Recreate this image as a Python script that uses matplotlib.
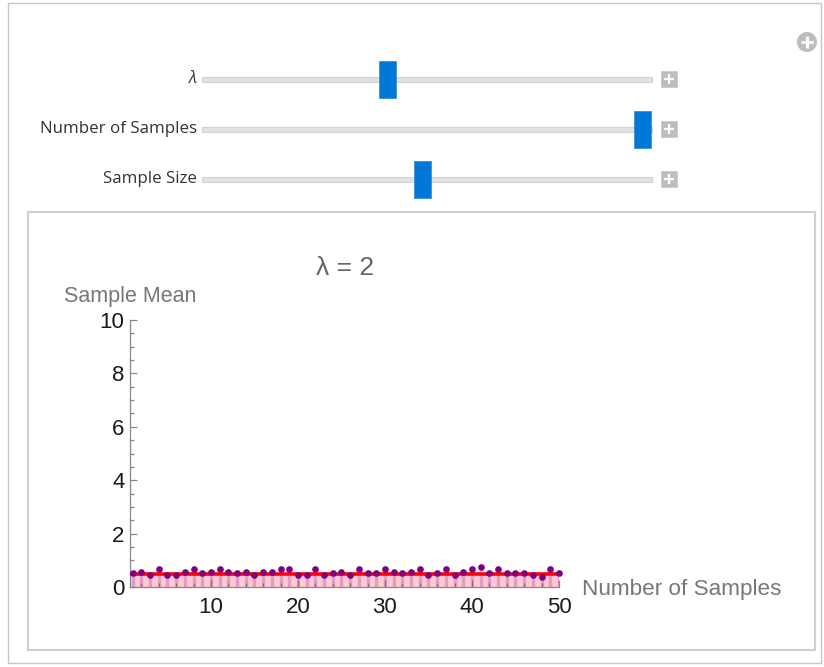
import matplotlib
matplotlib.use('Agg')
import matplotlib.pyplot as plt
from matplotlib.patches import Rectangle, Circle
import numpy as np

plt.rcParams['font.family'] = ['Liberation Sans', 'DejaVu Sans']

# data
lam = 2
sample_ids = np.arange(1, 51)
sample_means = [0.54, 0.57, 0.45, 0.66, 0.45, 0.45, 0.57, 0.66, 0.54, 0.57,
                0.66, 0.57, 0.54, 0.57, 0.45, 0.57, 0.57, 0.66, 0.66, 0.45,
                0.45, 0.66, 0.45, 0.54, 0.57, 0.45, 0.66, 0.54, 0.54, 0.66,
                0.57, 0.54, 0.57, 0.66, 0.45, 0.54, 0.66, 0.45, 0.57, 0.66,
                0.74, 0.54, 0.66, 0.54, 0.54, 0.54, 0.45, 0.36, 0.66, 0.54]
true_mean = 1 / lam

slider_labels = ['λ', 'Number of Samples', 'Sample Size']
slider_pos = [0.413, 0.98, 0.49]   # thumb position along the track

W, H = 824, 667
fig = plt.figure(figsize=(W / 100, H / 100), dpi=100)

# ---- control panel (pixel coordinates) ----
ui = fig.add_axes([0, 0, 1, 1])
ui.set_xlim(0, W)
ui.set_ylim(H, 0)
ui.axis('off')

ui.add_patch(Rectangle((8, 3), 813, 660, fill=False, ec='#C6C6C6', lw=1))
ui.add_patch(Rectangle((28, 212), 787, 438, fill=False, ec='#CFCFCF', lw=1.5))

ui.add_patch(Circle((807, 42), 10, fc='#BDBDBD', ec='none'))
ui.plot([801, 813], [42, 42], color='white', lw=2.2, solid_capstyle='butt')
ui.plot([807, 807], [36, 48], color='white', lw=2.2, solid_capstyle='butt')

track_x0, track_x1 = 202, 652
for i, (lab, pos) in enumerate(zip(slider_labels, slider_pos)):
    yc = 79 + 50 * i
    ui.text(197, yc, lab, ha='right', va='center', fontsize=12.2,
            family=['Open Sans', 'DejaVu Sans'], color='#333333',
            style='italic' if lab == 'λ' else 'normal')
    ui.add_patch(Rectangle((track_x0, yc - 2.5), track_x1 - track_x0, 5,
                           fc='#E2E2E2', ec='#D2D2D2', lw=0.8))
    xc = track_x0 + pos * (track_x1 - track_x0)
    ui.add_patch(Rectangle((xc - 8.5, yc - 18.5), 17, 37,
                           fc='#0078D7', ec='#3D8FDA', lw=0.6))
    ui.add_patch(Rectangle((661, yc - 8), 16, 16, fc='#BDBDBD', ec='#CCCCCC', lw=0.6))
    ui.plot([664, 674], [yc, yc], color='white', lw=1.6, solid_capstyle='butt')
    ui.plot([669, 669], [yc - 5, yc + 5], color='white', lw=1.6, solid_capstyle='butt')

# ---- the plot ----
left, right = 130 / W, 559 / W
bottom, top = (H - 587) / H, (H - 320) / H
ax = fig.add_axes([left, bottom, right - left, top - bottom])
ax.patch.set_alpha(0)

ax.fill_between([0.7, 50], 0, true_mean, color='#FFCAD4', lw=0, zorder=1)
ax.vlines(sample_ids, 0, sample_means, color=(0.5, 0, 0.5), alpha=0.22,
          lw=2.4, zorder=2)
ax.plot([0.7, 50], [true_mean, true_mean], color='#FF0000', lw=2.6, zorder=3)
ax.plot(sample_ids, sample_means, 'o', color=(0.5, 0, 0.5), ms=4.8,
        mec='none', zorder=4, clip_on=False)

ax.set_xlim(0.7, 50)
ax.set_ylim(0, 10)
ax.set_xticks([10, 20, 30, 40, 50])
ax.set_xticks(np.arange(2, 50, 2), minor=True)
ax.set_yticks([0, 2, 4, 6, 8, 10])
ax.set_yticks(np.arange(0, 10.01, 0.5), minor=True)
for s in ['top', 'right']:
    ax.spines[s].set_visible(False)
for s in ['left', 'bottom']:
    ax.spines[s].set_color('#888888')
    ax.spines[s].set_linewidth(0.9)
ax.tick_params(which='both', direction='in', color='#888888', width=0.9,
               labelsize=16, labelcolor='#1A1A1A', pad=4)
ax.tick_params(axis='x', which='major', pad=7)
ax.tick_params(which='major', length=5)
ax.tick_params(which='minor', length=2.8)

fig.text(345 / W, 1 - 268 / H, 'λ = 2', ha='center', va='center',
         fontsize=19, color='#666666')
fig.text(130 / W, 1 - 296 / H, 'Sample Mean', ha='center', va='center',
         fontsize=15.5, color='#777777')
fig.text(582 / W, 1 - 589 / H, 'Number of Samples', ha='left', va='center',
         fontsize=16.2, color='#777777')

fig.savefig('out.png', dpi=100)
